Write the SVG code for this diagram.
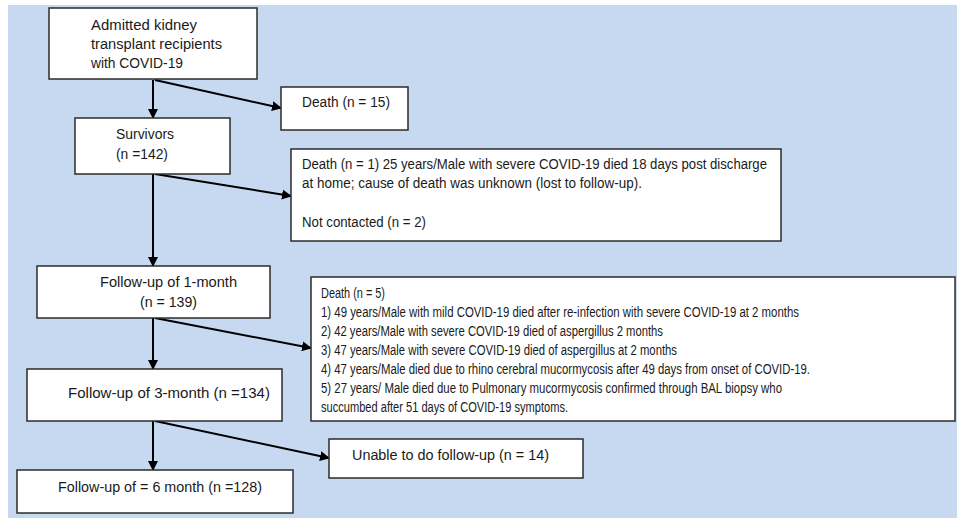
<svg xmlns="http://www.w3.org/2000/svg" width="957" height="518" viewBox="0 0 957 518">
<style>
.box{fill:#fff;stroke:#2b2b2b;stroke-width:1.5}
.t{font-family:"Liberation Sans",Arial,sans-serif;font-size:14px;fill:#1a1a1a}
.c{stroke:#000;stroke-width:2;fill:none}
</style>
<defs>
<marker id="ah" markerWidth="10" markerHeight="10" refX="9" refY="5" orient="auto" markerUnits="userSpaceOnUse">
<path d="M0,0 L10,5 L0,10 z" fill="#000"/>
</marker>
</defs>
<rect x="0" y="0" width="957" height="518" fill="#fff"/>
<rect x="8" y="5" width="949" height="513" fill="#c6d9f0"/>
<g id="connectors">
<line class="c" x1="153" y1="80" x2="153" y2="118" marker-end="url(#ah)"/>
<line class="c" x1="155" y1="80" x2="281" y2="108" marker-end="url(#ah)"/>
<line class="c" x1="153" y1="174" x2="153" y2="266" marker-end="url(#ah)"/>
<line class="c" x1="155" y1="174" x2="291" y2="196" marker-end="url(#ah)"/>
<line class="c" x1="153" y1="318" x2="153" y2="369" marker-end="url(#ah)"/>
<line class="c" x1="155" y1="318" x2="311" y2="348" marker-end="url(#ah)"/>
<line class="c" x1="153" y1="421" x2="153" y2="470" marker-end="url(#ah)"/>
<line class="c" x1="155" y1="421" x2="329" y2="458" marker-end="url(#ah)"/>
</g>
<g id="admitted">
<rect class="box" x="49" y="8" width="208" height="71"/>
<text class="t" x="91" y="30" textLength="106" lengthAdjust="spacingAndGlyphs">Admitted kidney</text>
<text class="t" x="91" y="49" textLength="131" lengthAdjust="spacingAndGlyphs">transplant recipients</text>
<text class="t" x="91" y="68" textLength="92" lengthAdjust="spacingAndGlyphs">with COVID-19</text>
</g>
<g id="death15">
<rect class="box" x="281" y="87" width="127" height="43"/>
<text class="t" x="302" y="107" textLength="88" lengthAdjust="spacingAndGlyphs">Death (n = 15)</text>
</g>
<g id="survivors">
<rect class="box" x="75" y="118" width="155" height="56"/>
<text class="t" x="116" y="139" textLength="58" lengthAdjust="spacingAndGlyphs">Survivors</text>
<text class="t" x="116" y="159" textLength="52" lengthAdjust="spacingAndGlyphs">(n =142)</text>
</g>
<g id="death1">
<rect class="box" x="291" y="149" width="490" height="92"/>
<text class="t" x="302" y="169" textLength="465" lengthAdjust="spacingAndGlyphs">Death (n = 1) 25 years/Male with severe COVID-19 died 18 days post discharge</text>
<text class="t" x="302" y="188" textLength="340" lengthAdjust="spacingAndGlyphs">at home; cause of death was unknown (lost to follow-up).</text>
<text class="t" x="302" y="227" textLength="124" lengthAdjust="spacingAndGlyphs">Not contacted (n = 2)</text>
</g>
<g id="fu1">
<rect class="box" x="37" y="266" width="233" height="52"/>
<text class="t" x="100" y="287" textLength="137" lengthAdjust="spacingAndGlyphs">Follow-up of 1-month</text>
<text class="t" x="140" y="307" textLength="57" lengthAdjust="spacingAndGlyphs">(n = 139)</text>
</g>
<g id="death5">
<rect class="box" x="311" y="277" width="644" height="144"/>
<text class="t" x="321" y="298" textLength="64" lengthAdjust="spacingAndGlyphs">Death (n = 5)</text>
<text class="t" x="321" y="317" textLength="478" lengthAdjust="spacingAndGlyphs">1) 49 years/Male with mild COVID-19 died after re-infection with severe COVID-19 at 2 months</text>
<text class="t" x="321" y="336" textLength="342" lengthAdjust="spacingAndGlyphs">2) 42 years/Male with severe COVID-19 died of aspergillus 2 months</text>
<text class="t" x="321" y="355" textLength="356" lengthAdjust="spacingAndGlyphs">3) 47 years/Male with severe COVID-19 died of aspergillus at 2 months</text>
<text class="t" x="321" y="374" textLength="489" lengthAdjust="spacingAndGlyphs">4) 47 years/Male died due to rhino cerebral mucormycosis after 49 days from onset of COVID-19.</text>
<text class="t" x="321" y="393" textLength="461" lengthAdjust="spacingAndGlyphs">5) 27 years/ Male died due to Pulmonary mucormycosis confirmed through BAL biopsy who</text>
<text class="t" x="321" y="412" textLength="247" lengthAdjust="spacingAndGlyphs">succumbed after 51 days of COVID-19 symptoms.</text>
</g>
<g id="fu3">
<rect class="box" x="27" y="369" width="255" height="52"/>
<text class="t" x="68" y="398" textLength="202" lengthAdjust="spacingAndGlyphs">Follow-up of 3-month (n =134)</text>
</g>
<g id="unable">
<rect class="box" x="329" y="439" width="254" height="39"/>
<text class="t" x="352" y="460" textLength="197" lengthAdjust="spacingAndGlyphs">Unable to do follow-up (n = 14)</text>
</g>
<g id="fu6">
<rect class="box" x="17" y="470" width="276" height="43"/>
<text class="t" x="58" y="492" textLength="204" lengthAdjust="spacingAndGlyphs">Follow-up of = 6 month (n =128)</text>
</g>
</svg>
